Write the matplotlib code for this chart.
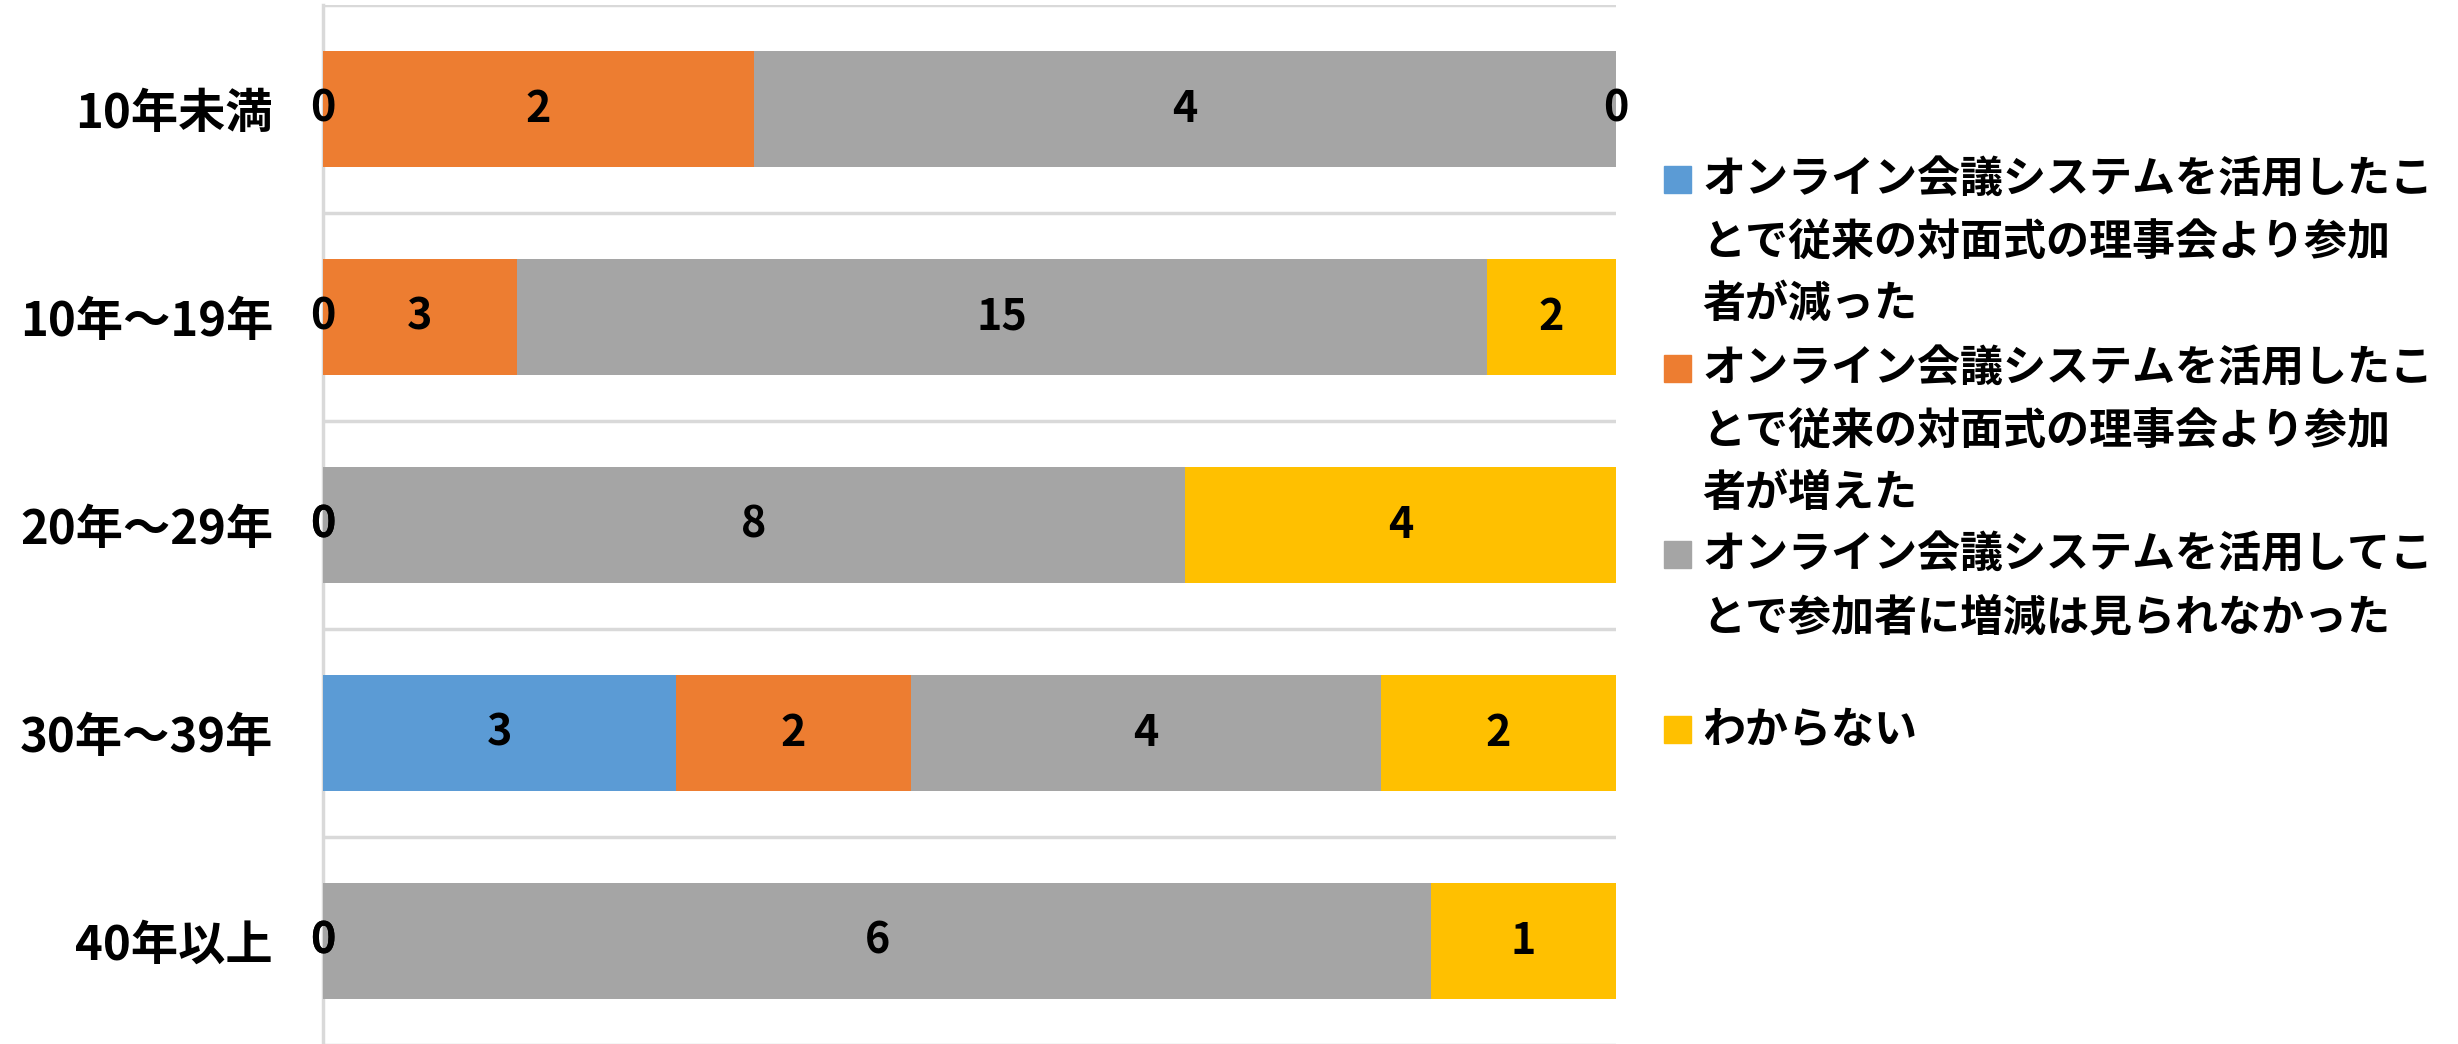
import matplotlib
matplotlib.use("Agg")
import matplotlib.pyplot as plt
import numpy as np
from matplotlib.patches import Rectangle

plt.rcParams['font.family'] = ['Noto Sans CJK JP', 'DejaVu Sans']
plt.rcParams['font.weight'] = 'bold'

categories = ["10年未満", "10年～19年", "20年～29年", "30年～39年", "40年以上"]
series_names = [
    "オンライン会議システムを活用したことで従来の対面式の理事会より参加者が減った",
    "オンライン会議システムを活用したことで従来の対面式の理事会より参加者が増えた",
    "オンライン会議システムを活用してことで参加者に増減は見られなかった",
    "わからない",
]
legend_lines = [
    ["オンライン会議システムを活用したこ", "とで従来の対面式の理事会より参加", "者が減った"],
    ["オンライン会議システムを活用したこ", "とで従来の対面式の理事会より参加", "者が増えた"],
    ["オンライン会議システムを活用してこ", "とで参加者に増減は見られなかった"],
    ["わからない"],
]
decreased = [0, 0, 0, 3, 0]
increased = [2, 3, 0, 2, 0]
no_change = [4, 15, 8, 4, 6]
unknown = [0, 2, 4, 2, 1]
colors = ["#5B9BD5", "#ED7D31", "#A5A5A5", "#FFC000"]

W, H = 2458, 1044
fig = plt.figure(figsize=(W / 100, H / 100), dpi=100)
ax = fig.add_axes([323 / W, -1 / H, (1616 - 323) / W, 1040 / H])

values = np.array([decreased, increased, no_change, unknown], dtype=float)
totals = values.sum(axis=0)
shares = values / totals
y = np.arange(len(categories))
left = np.zeros(len(categories))
for i in range(len(values)):
    ax.barh(y, shares[i], left=left, height=0.557, color=colors[i],
            edgecolor='none', zorder=3)
    for j in range(len(categories)):
        ax.text(left[j] + shares[i][j] / 2, y[j], f"{int(values[i][j])}",
                ha='center', va='center', fontsize=31, fontweight='bold',
                color='black', zorder=5)
    left = left + shares[i]

ax.set_xlim(0, 1)
ax.set_ylim(len(categories) - 0.5, -0.5)
ax.set_yticks(y)
ax.set_yticklabels(categories, fontsize=34, fontweight='bold')
ax.set_yticks(np.arange(-0.5, len(categories), 1.0), minor=True)
ax.tick_params(axis='y', which='both', length=0, pad=36)
ax.set_xticks([])
ax.grid(which='minor', axis='y', color='#D9D9D9', linewidth=2.5, zorder=0)
for s in ['top', 'right', 'bottom']:
    ax.spines[s].set_visible(False)
ax.spines['left'].set_color('#D9D9D9')
ax.spines['left'].set_linewidth(2.5)

# legend entries drawn in figure pixel coordinates
entry_tops = [180, 369, 555, 730]
line_gap = 62
for k, lines in enumerate(legend_lines):
    yc = entry_tops[k]
    fig.patches.append(Rectangle((1664 / W, 1 - (yc + 13) / H), 27 / W, 27 / H,
                                 transform=fig.transFigure, color=colors[k]))
    for n, line in enumerate(lines):
        fig.text(1702 / W, 1 - (yc + n * line_gap) / H, line, fontsize=31,
                 fontweight='bold', va='center', ha='left')

fig.savefig("out.png", dpi=100)
